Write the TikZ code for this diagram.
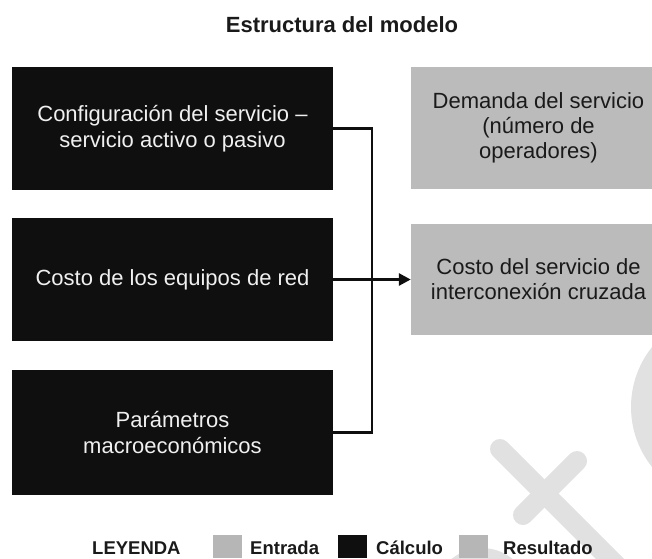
\documentclass[tikz,border=0pt]{standalone}
\usepackage{fontspec}
\setmainfont{Liberation Sans}
\usetikzlibrary{arrows.meta}
\definecolor{calc}{HTML}{0F0F0F}
\definecolor{ingrey}{HTML}{BBBBBB}
\definecolor{leggrey}{HTML}{B6B6B6}
\definecolor{wm}{HTML}{E1E1E1}
\definecolor{darktext}{HTML}{1A1A1A}
\tikzset{
  calcbox/.style={fill=calc, text=white!94!black, minimum width=321, minimum height=#1, align=center, inner sep=0pt, font=\fontsize{22}{26.5}\selectfont},
  resbox/.style={fill=ingrey, text=darktext, minimum width=255, minimum height=#1, align=center, inner sep=0pt, font=\fontsize{22}{25}\selectfont},
  conn/.style={line width=2.8pt, draw=calc},
  legsq/.style={fill=leggrey, minimum width=29, minimum height=23, inner sep=0pt},
  legtxt/.style={font=\fontsize{18.5}{20}\selectfont\bfseries, text=darktext, anchor=base west, inner sep=0pt},
  wmbar/.style={draw=wm, line width=20pt, line cap=round}
}
\begin{document}
\begin{tikzpicture}[x=1pt,y=-1pt]
\useasboundingbox (0,0) rectangle (652,558);
\begin{scope}
\clip (0,0) rectangle (652,558);
% watermark
\fill[wm] (727,407) circle (96);
\fill[wm] (482,596) circle (48);
\draw[wmbar] (500,449) -- (660,609);
\draw[wmbar] (577,461) -- (523,515);
% result boxes
\node[resbox=122] (dem) at (538.5,128) {Demanda del servicio\\(número de\\operadores)};
\node[resbox=111] (cost) at (538.5,279.5) {Costo del servicio de\\interconexión cruzada};
\end{scope}
\node[font=\fontsize{22}{26}\selectfont\bfseries, text=darktext, anchor=base, inner sep=0pt] (title) at (342,32) {Estructura del modelo};
\node[calcbox=123] (conf) at (172.5,128.5) {Configuración del servicio –\\servicio activo o pasivo};
\node[calcbox=123] (equip) at (172.5,279.5) {Costo de los equipos de red};
\node[calcbox=125] (macro) at (172.5,432.5) {Parámetros\\macroeconómicos};
\coordinate (bus) at (372,280);
\draw[conn, line cap=rect] (conf.east) -- (conf.east -| bus) -- (macro.east -| bus) -- (macro.east);
\draw[conn, -{Triangle[length=12pt,width=12pt]}] (equip.east) -- (cost.west);
% legend
\node[legtxt] (ley) at (92,554) {LEYENDA};
\node[legsq, anchor=north west] (sq1) at (213,535) {};
\node[legtxt] (ent) at (250,554) {Entrada};
\node[legsq, fill=calc, anchor=north west] (sq2) at (338,535) {};
\node[legtxt] (cal) at (376,554) {Cálculo};
\node[legsq, anchor=north west] (sq3) at (459,535) {};
\node[legtxt] (res) at (503,554) {Resultado};
\end{tikzpicture}
\end{document}
